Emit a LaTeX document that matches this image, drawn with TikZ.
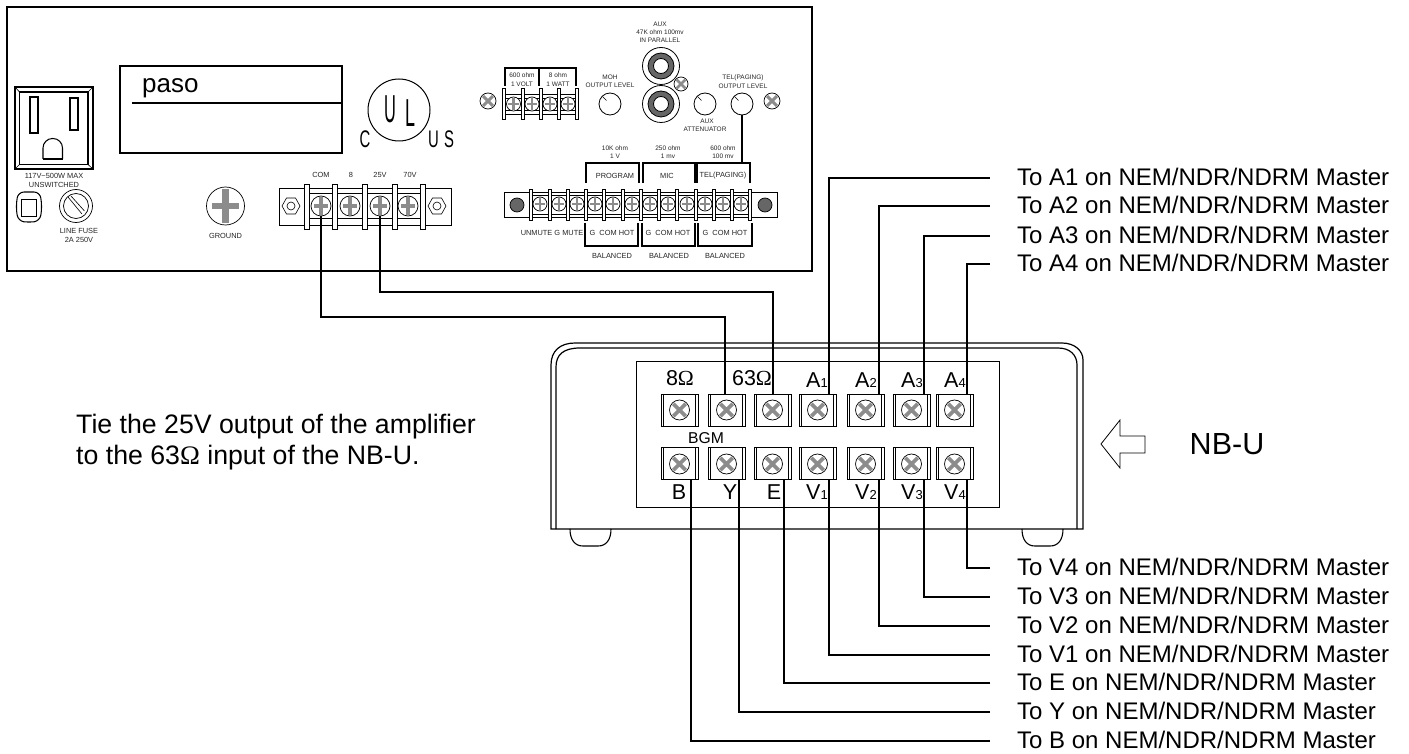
\documentclass[tikz,border=0pt]{standalone}
\usepackage{fontspec}
\setmainfont{Liberation Sans}
\newfontfamily\omegafont{Liberation Serif}
\newcommand{\fsz}[1]{\fontsize{#1}{#1}\selectfont}
\newcommand{\ohm}{{\omegafont Ω}}
\definecolor{scr}{gray}{0.55}
\tikzset{
  panel/.style={draw=black,line width=1.5pt},
  part/.style={draw=black,line width=1.05pt},
  thin part/.style={draw=black,line width=0.6pt},
  bracket/.style={draw=black,line width=1.3pt},
  wire/.style={draw=black,line width=1.4pt},
  tiny label/.style={inner sep=0pt,font=\fsz{7.4},text=black!85},
  tinier label/.style={inner sep=0pt,font=\fsz{6.5},text=black!85},
  big label/.style={inner sep=0pt,anchor=west,font=\fsz{24}},
  term label/.style={inner sep=0pt,font=\fsz{21.5}},
  termbox/.style={draw=black,line width=0.8pt,minimum width=37pt,minimum height=32pt,inner sep=0pt},
}
% cross-head screw with an X, name, x, y, radius
\newcommand{\xscrew}[4]{%
  \node[circle,draw=black,line width=0.7pt,fill=white,minimum size=#4*2pt,inner sep=0pt] (#1) at (#2,#3) {};
  \draw[scr,line width=#4*0.36pt] (#2-#4*0.62,#3-#4*0.62) -- (#2+#4*0.62,#3+#4*0.62) (#2-#4*0.62,#3+#4*0.62) -- (#2+#4*0.62,#3-#4*0.62);}
% screw with a plus
\newcommand{\pscrew}[4]{%
  \node[circle,draw=black,line width=0.7pt,fill=white,minimum size=#4*2pt,inner sep=0pt] (#1) at (#2,#3) {};
  \draw[scr,line width=#4*0.34pt] (#2-#4*0.72,#3) -- (#2+#4*0.72,#3) (#2,#3-#4*0.9) -- (#2,#3+#4*0.9);}
% knob
\newcommand{\knob}[3]{%
  \node[circle,draw=black,line width=0.8pt,minimum size=22pt,inner sep=0pt] (#1) at (#2,#3) {};
  \draw[line width=0.6pt] (#2-7.5,#3-7.5) -- (#2-3.5,#3-3.5);}
% RCA
\newcommand{\rca}[3]{%
  \node[circle,draw=black,line width=0.8pt,minimum size=37pt,inner sep=0pt] (#1) at (#2,#3) {};
  \draw[black,line width=0.8pt,fill=black!60] (#2,#3) circle[radius=13];
  \draw[black,line width=0.8pt,fill=white] (#2,#3) circle[radius=7.5];}
\begin{document}
\begin{tikzpicture}[x=1pt,y=-1pt]
\useasboundingbox (0,0) rectangle (1409,754);
\fill[white] (0,0) rectangle (1409,754);
% ---------- amplifier ----------
\node[panel,minimum width=805pt,minimum height=264pt,inner sep=0pt] (amp) at (409.5,139) {};
% outlet
\draw[part] (15,87) rectangle (93,169);
\draw[part] (19.5,92) rectangle (88,164.5);
\draw[thin part] (15,87) -- (19.5,92) (93,87) -- (88,92) (15,169) -- (19.5,164.5) (93,169) -- (88,164.5);
\draw[part] (30,97) rectangle (38,133);
\draw[part] (70,98) rectangle (78,130);
\draw[part,rounded corners=9.5pt] (43,159) -- (43,138.5) -- (62.5,138.5) -- (62.5,159);
\draw[part] (43,159) -- (62.5,159);
\node[tiny label] (l117) at (54,175.5) {117V\textasciitilde 500W MAX};
\node[tiny label] (lunsw) at (54,184.5) {UNSWITCHED};
\draw[part,rounded corners=6pt] (18,192) -- (40,192) -- (42,207) -- (40,221) -- (29,222.5) -- (18,221) -- (16,207) -- cycle;
\draw[thin part] (21,199) rectangle (36,216);
% fuse
\node[circle,draw=black,line width=0.7pt,minimum size=33pt,inner sep=0pt] (fuse) at (76,206) {};
\node[circle,draw=black,line width=0.7pt,minimum size=25pt,inner sep=0pt] (fusei) at (76,206) {};
\draw[thin part] (68,197) -- (82,214) (71,196) -- (84.5,211);
\node[tiny label] (lfuse) at (79,231) {LINE FUSE};
\node[tiny label] (lfuse2) at (79,240) {2A 250V};
% display
\draw[part,line width=1.1pt] (120,66) rectangle (342,153);
\draw[line width=1.1pt] (132,103) -- (342,103);
\node[inner sep=0pt,anchor=base west,font=\fsz{26}] (paso) at (142,93) {paso};
% UL
\node[circle,draw=black,line width=1pt,minimum size=62pt,inner sep=0pt] (ulc) at (399,110) {};
\node[inner sep=0pt,font=\fsz{39},xscale=.42] (ulu) at (390,109) {U};
\node[inner sep=0pt,font=\fsz{39},xscale=.46] (ull) at (410,113.5) {L};
\node[inner sep=0pt,font=\fsz{24},xscale=.62] (ulcc) at (365,139) {C};
\node[inner sep=0pt,font=\fsz{24},xscale=.62] (uls1) at (433.5,139) {U};
\node[inner sep=0pt,font=\fsz{24},xscale=.62] (uls2) at (449,139) {S};
% ground
\pscrew{gnd}{225.5}{206}{19}
\node[tiny label] (lgnd) at (225.5,236) {GROUND};
% speaker block
\draw[thin part] (279,188) rectangle (451,225);
\draw[thin part] (306,193.5) -- (423,193.5) (306,218.5) -- (423,218.5);
\foreach \bx in {306.5,334.5,364.5,394.5,422.5}{\draw[thin part,fill=white] (\bx-2.5,184) rectangle (\bx+2.5,229);}
\pscrew{scom}{321}{206}{10}
\pscrew{seight}{350}{206}{10}
\pscrew{stwfv}{380}{206}{10}
\pscrew{ssevz}{408}{206}{10}
\foreach \hx/\hn in {291/nl,437/nr}{
  \draw[thin part] (\hx+9,206) -- (\hx+4.5,198) -- (\hx-4.5,198) -- (\hx-9,206) -- (\hx-4.5,214) -- (\hx+4.5,214) -- cycle;
  \draw[thin part] (\hx,206) circle[radius=4];}
\node[tiny label] (lcom) at (321,175) {COM};
\node[tiny label] (l8) at (351,175) {8};
\node[tiny label] (l25) at (380,175) {25V};
\node[tiny label] (l70) at (410,175) {70V};
% small block
\draw[thin part] (504,94) -- (577,94) (504,98) -- (577,98) (504,110) -- (577,110) (504,114) -- (577,114);
\foreach \bx in {504,522.5,541,559,577}{\draw[thin part,fill=white] (\bx-1.5,88) rectangle (\bx+1.5,119);}
\pscrew{sa}{513.5}{104}{7}
\pscrew{sb}{532}{104}{7}
\pscrew{sc}{550}{104}{7}
\pscrew{sd}{568}{104}{7}
\xscrew{xa}{488}{101}{8}
\draw[bracket] (505,86) -- (505,68) -- (576,68) -- (576,86) (539,68) -- (539,86);
\node[tinier label] (l600a) at (522,75) {600 ohm};
\node[tinier label] (l1v) at (522,84) {1 VOLT};
\node[tinier label] (l8o) at (558,75) {8 ohm};
\node[tinier label] (l1w) at (558,84) {1 WATT};
\node[tinier label] (lmoh) at (610,77) {MOH};
\node[tinier label] (lmoh2) at (610,85) {OUTPUT LEVEL};
\knob{kmoh}{610}{104}
\node[tinier label] (laux) at (660,24) {AUX};
\node[tinier label] (laux2) at (660,32) {47K ohm 100mv};
\node[tinier label] (laux3) at (660,40) {IN PARALLEL};
\rca{rt}{661}{66}
\rca{rb}{661}{104}
\xscrew{xb}{681}{84}{7}
\knob{kaux}{705}{104}
\node[tinier label] (lat) at (707,121) {AUX};
\node[tinier label] (lat2) at (705,129) {ATTENUATOR};
\knob{ktel}{742}{104}
\node[tinier label] (ltel) at (743,78) {TEL(PAGING)};
\node[tinier label] (ltel2) at (743,86) {OUTPUT LEVEL};
\xscrew{xc}{772}{101}{8}
% big block
\draw[thin part] (504,192) rectangle (777,217);
\draw[thin part] (531,195) -- (750,195) (531,214) -- (750,214);
\foreach \bx in {531,550,568,586,604,623,641,659,677,696,714,732,750}{\draw[thin part,fill=white] (\bx-1.5,189) rectangle (\bx+1.5,220);}
\foreach \sx [count=\si] in {540,559,577,595,613,632,650,668,687,705,723,741}{\pscrew{bs\si}{\sx}{204}{7}}
\node[circle,draw=black,line width=.7pt,fill=black!60,minimum size=14pt,inner sep=0pt] (hl) at (517,205) {};
\node[circle,draw=black,line width=.7pt,fill=black!60,minimum size=14pt,inner sep=0pt] (hr) at (765,205) {};
\draw[bracket] (586,183) -- (586,163) -- (639,163) -- (639,183);
\draw[bracket] (643,183) -- (643,163) -- (695,163) -- (695,183);
\draw[bracket] (697,183) -- (697,163) -- (750,163) -- (750,183);
\draw[bracket] (585,223) -- (585,246) -- (638,246) -- (638,223);
\draw[bracket] (642,223) -- (642,246) -- (695,246) -- (695,223);
\draw[bracket] (698,223) -- (698,246) -- (752,246) -- (752,223);
\coordinate (brtop) at (ktel.south |- 0,163);
\draw[bracket] (ktel.south) -- (brtop);
\node[tinier label] (l10k) at (615,148) {10K ohm};
\node[tinier label] (l1vv) at (615,156) {1 V};
\node[tinier label] (l250) at (668,148) {250 ohm};
\node[tinier label] (l1mv) at (668,156) {1 mv};
\node[tinier label] (l600) at (723,148) {600 ohm};
\node[tinier label] (l100) at (723,156) {100 mv};
\node[tiny label] (lprog) at (615,176) {PROGRAM};
\node[tiny label] (lmic) at (667,176) {MIC};
\node[tiny label] (ltp) at (723,176) {TEL(PAGING)};
\node[tiny label] (lunm) at (552,233) {UNMUTE G MUTE};
\node[tiny label] (lg1) at (612,233) {G\ \ COM HOT};
\node[tiny label] (lg2) at (668,233) {G\ \ COM HOT};
\node[tiny label] (lg3) at (725,233) {G\ \ COM HOT};
\node[tiny label] (lb1) at (612,256) {BALANCED};
\node[tiny label] (lb2) at (669,256) {BALANCED};
\node[tiny label] (lb3) at (725,256) {BALANCED};
% ---------- NB-U ----------
\draw[part,line width=1.2pt] (551,529) -- (551,365) .. controls (551,351) and (560,343) .. (575,343) -- (1062,343) .. controls (1075,343) and (1083,351) .. (1083,360) -- (1083,529) -- cycle;
\draw[part,line width=1.2pt] (556,529) -- (556,367) .. controls (556,355) and (563,348) .. (580,348) -- (1058,348) .. controls (1070,348) and (1077,355) .. (1077,365) -- (1077,529);
\draw[part,line width=1.1pt] (570,529) .. controls (570,540) and (575,546) .. (583,546) -- (598,546) .. controls (606,546) and (611,540) .. (611,529);
\draw[part,line width=1.1pt] (1022,529) .. controls (1022,540) and (1027,546) .. (1035,546) -- (1050,546) .. controls (1058,546) and (1063,540) .. (1063,529);
\draw[thin part] (636,361) rectangle (999,507);
\foreach \tx/\tn in {679.5/a,726.5/b,772.5/c,817.5/d,865.5/e,911.5/f,954.5/g}{
  \node[termbox] (t\tn) at (\tx,410) {};
  \node[termbox] (u\tn) at (\tx,463.5) {};
  \draw[thin part] (\tx-16,394) -- (\tx-16,426) (\tx+16,394) -- (\tx+16,426) (\tx-16,447.5) -- (\tx-16,479.5) (\tx+16,447.5) -- (\tx+16,479.5);
  \xscrew{ts\tn}{\tx}{410}{10}
  \xscrew{us\tn}{\tx}{464}{10}
}
\node[term label] (l8ohm) at (680,378) {8\ohm};
\node[term label] (l63) at (752,378) {63\ohm};
\node[term label] (lA1) at (817,380) {A{\fsz{13}1}};
\node[term label] (lA2) at (866,380) {A{\fsz{13}2}};
\node[term label] (lA3) at (912,380) {A{\fsz{13}3}};
\node[term label] (lA4) at (955,380) {A{\fsz{13}4}};
\node[inner sep=0pt,font=\fsz{15.7}] (lbgm) at (706,438) {BGM};
\node[term label] (lB) at (679,492) {B};
\node[term label] (lY) at (730,492) {Y};
\node[term label] (lE) at (774,492) {E};
\node[term label] (lV1) at (817,492) {V{\fsz{13}1}};
\node[term label] (lV2) at (866,492) {V{\fsz{13}2}};
\node[term label] (lV3) at (912,492) {V{\fsz{13}3}};
\node[term label] (lV4) at (955,492) {V{\fsz{13}4}};
% arrow + captions
\node[inner sep=0pt,font=\fsz{30.5}] (nbu) at (1227,444) {NB-U};
\draw[thin part,line width=.8pt] (1101,444) -- (1120,420) -- (1120,436) -- (1145,436) -- (1145,453) -- (1120,453) -- (1120,468) -- cycle;
\node[inner sep=0pt,anchor=base west,font=\fsz{26.7}] (tie1) at (76,433) {Tie the 25V output of the amplifier};
\node[inner sep=0pt,anchor=base west,font=\fsz{26.7}] (tie2) at (76,464) {to the 63\ohm{} input of the NB-U.};
% ---------- to-labels ----------
\foreach \nm/\yy/\txt in {A1/178/To A1,A2/206/To A2,A3/236/To A3,A4/264/To A4,V4/568/To V4,V3/597/To V3,V2/626/To V2,V1/655/To V1,E/683/To E,Y/712/To Y,B/741/To B}{
  \node[big label] (to\nm) at (1017,\yy-1) {\txt{} on NEM/NDR/NDRM Master};
  \coordinate (end\nm) at (990,\yy);
}
% ---------- wires ----------
\coordinate (w8t) at (725,394);
\coordinate (w63t) at (773,394);
\draw[wire] (scom.south) -- (scom.south |- 0,317) -| (w8t);
\draw[wire] (stwfv.south) -- (stwfv.south |- 0,292) -| (w63t);
\foreach \nm/\xx/\nt in {A1/829/d,A2/879/e,A3/924/f,A4/967/g}{
  \coordinate (wt\nm) at (\xx,394);
  \draw[wire] (end\nm) -| (wt\nm);
}
\foreach \nm/\xx/\nt in {B/691/a,Y/739/b,E/784/c,V1/829/d,V2/879/e,V3/924/f,V4/967/g}{
  \coordinate (wb\nm) at (\xx,479.5);
  \draw[wire] (end\nm) -| (wb\nm);
}
\end{tikzpicture}
\end{document}
